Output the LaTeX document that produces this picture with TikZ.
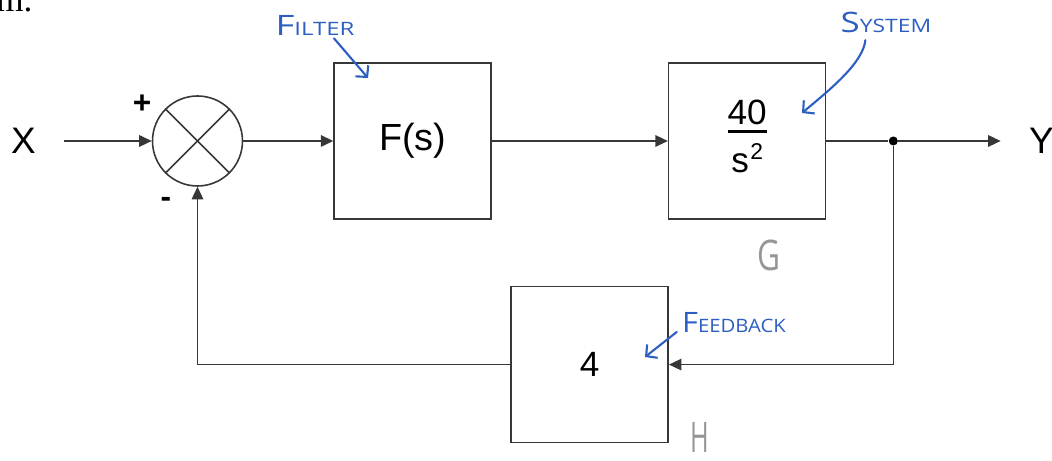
\documentclass[tikz,border=0pt]{standalone}
\usepackage{amsmath}
\usepackage{fontspec}
\usepackage{tikz}
\usetikzlibrary{shapes.geometric, arrows.meta, positioning, calc}
\setmainfont{Liberation Sans}
\newfontfamily\handfont{Open Sans}
\newfontfamily\printfont{Liberation Serif}
\definecolor{cInk}{RGB}{45,95,195}
\definecolor{cPencil}{RGB}{150,150,150}
\definecolor{cLine}{RGB}{55,55,55}
\newcommand{\handnote}[3]{\scalebox{#1}[1]{{\fontsize{16}{16}\selectfont #2}{\fontsize{10.5}{10.5}\selectfont #3}}}
\tikzset{
    block/.style    ={rectangle, draw=cLine, line width=0.9pt, minimum width=3.14cm, minimum height=3.12cm, text centered, font=\fontsize{20}{22}\selectfont},
    sumjn/.style    ={circle, draw=cLine, line width=0.9pt, minimum size=1.8cm, inner sep=0pt},
    sigterm/.style  ={inner xsep=0.56cm, inner ysep=0pt, font=\fontsize{21}{24}\selectfont},
    pmsign/.style   ={font=\fontsize{18}{20}\selectfont\bfseries, inner sep=0pt},
    branch/.style   ={circle, fill=black, minimum size=0.18cm, inner sep=0pt},
    sigline/.style  ={line width=0.9pt, draw=cLine},
    sigarrow/.style ={-{Triangle[length=2.5mm, width=2.3mm]}, sigline},
    inknote/.style  ={text=cInk, font=\handfont, inner sep=0pt},
    notearrow/.style={-{Straight Barb[length=1.6mm, width=3.4mm]}, line width=1.2pt, draw=cInk, line cap=round},
    pencil/.style   ={text=cPencil, font=\handfont\fontsize{24}{24}\selectfont, inner sep=0pt},
}
\begin{document}
\begin{tikzpicture}[node distance=1.8cm]
    \useasboundingbox (0,0) rectangle (21.04,9.22);
    \node[anchor=base west, inner sep=0pt, font=\printfont\fontsize{20}{20}\selectfont] (cap) at (-0.08,8.98) {m.};
    \node[sumjn] (sum) at (3.95,6.40) {};
    \draw[sigline] (sum.north west) -- (sum.south east) (sum.north east) -- (sum.south west);
    \node[sigterm, left=1.75cm of sum] (xin) {X};
    \node[block, right=1.8cm of sum, font=\fontsize{21.5}{24}\selectfont] (fil) {F(s)};
    \node[block, right=3.52cm of fil] (sys) {\setlength{\arrayrulewidth}{1.4pt}\begin{tabular}{@{}c@{}}40\\[-0.12cm]\hline\rule{0pt}{0.8cm}s\hspace{0.03cm}\raisebox{0.27cm}{\fontsize{13}{13}\selectfont 2}\end{tabular}};
    \node[branch, right=1.24cm of sys] (tap) {};
    \node[sigterm, right=2.05cm of tap] (yout) {Y};
    \node[block, below=1.32cm of sys, xshift=-3.15cm] (fb) {4\hspace{0.25cm}};
    \node[pmsign] (plus) at ($(sum)+(-1.11,0.74)$) {+};
    \node[pmsign] (minus) at ($(sum)+(-0.63,-1.22)$) {-};
    \draw[sigarrow] (xin) -- (sum);
    \draw[sigarrow] (sum) -- (fil);
    \draw[sigarrow] (fil) -- (sys);
    \draw[sigline] (sys) -- (tap);
    \draw[sigarrow] (tap) -- (yout);
    \draw[sigarrow] (tap) |- (fb);
    \draw[sigarrow] (fb) -| (sum);
    \node[inknote] (filtnote) at (6.30,8.72) {\handnote{1.3}{F}{ILTER}};
    \coordinate (filttip) at (7.36,7.66);
    \draw[notearrow] ($(filtnote.south)+(0.38,-0.06)$) -- (filttip);
    \node[inknote] (sysnote) at (17.72,8.78) {\handnote{1.24}{S}{YSTEM}};
    \coordinate (systip) at (16.04,6.96);
    \draw[notearrow] ($(sysnote.south west)+(0.5,-0.15)$) .. controls +(-0.05,-0.45) and +(0.6,0.5) .. (systip);
    \node[inknote] (fbnote) at (14.68,2.76) {\handnote{1.1}{F}{EEDBACK}};
    \coordinate (fbtip) at (12.90,2.08);
    \draw[notearrow] ($(fbnote.south west)+(-0.1,0.03)$) -- (fbtip);
    \node[pencil] (gname) at (15.38,4.12) {\scalebox{0.75}[1]{G}};
    \node[pencil] (hname) at (14.00,0.48) {\scalebox{0.6}[1]{H}};
\end{tikzpicture}
\end{document}
